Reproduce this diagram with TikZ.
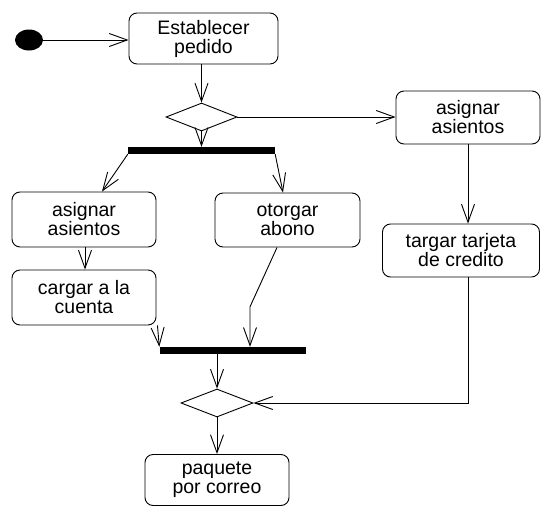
\documentclass[tikz,border=0pt]{standalone}
\usepackage{fontspec}
\setmainfont{Liberation Sans}
\usetikzlibrary{arrows.meta,shapes.geometric,calc}
\begin{document}
\begin{tikzpicture}[x=1pt,y=-1pt,
  every node/.style={inner sep=0pt},
  activity/.style={draw=black, line width=0.9pt, rounded corners=8pt, align=center,
    font=\fontsize{19.5}{19}\selectfont},
  decision/.style={draw=black, line width=0.9pt, diamond},
  syncbar/.style={fill=black, draw=none, rectangle},
  flow/.style={draw=black, line width=0.9pt, -{Straight Barb[length=18pt,width=13pt,line width=0.9pt]}}
]
\useasboundingbox (0,0) rectangle (542,507);

% start state
\node[ellipse, fill=black, minimum width=28pt, minimum height=21pt] (start) at (29,40) {};

% activities
\node[activity, minimum width=149pt, minimum height=51pt] (est) at (203.5,38.5) {Establecer\\pedido};
\node[activity, minimum width=144pt, minimum height=53pt] (asR) at (468,117.5) {asignar\\asientos};
\node[activity, minimum width=144pt, minimum height=55pt] (asL) at (84,219.5) {asignar\\asientos};
\node[activity, minimum width=145pt, minimum height=54pt] (oto) at (287.5,220) {otorgar\\abono};
\node[activity, minimum width=144pt, minimum height=55pt] (car) at (84,297.5) {cargar a la\\cuenta};
\node[activity, minimum width=157pt, minimum height=53pt] (tar) at (461,250.5) {targar tarjeta\\de credito};
\node[activity, minimum width=144pt, minimum height=51pt] (paq) at (217,480) {paquete\\por correo};

% decisions
\node[decision, minimum width=71pt, minimum height=28pt] (d1) at (201.5,117) {};
\node[decision, minimum width=72pt, minimum height=28pt] (d2) at (217,403) {};

% fork / join bars
\node[syncbar, minimum width=147pt, minimum height=7pt] (fork) at (201.5,150.5) {};
\node[syncbar, minimum width=146pt, minimum height=7pt] (join) at (232.5,350.5) {};

% transitions
\draw[flow] (start.east) -- (start.east -| est.west);
\draw[flow] (d1.north |- est.south) -- (d1.north);
\draw[flow] (d1.east) -- (d1.east -| asR.west);
\draw[flow] (d1.south) -- (d1.south |- fork.north);
\draw[flow] (fork.south west) -- ($(asL.north)+(18,0)$);
\draw[flow] (fork.south east) -- ($(oto.north)+(-4.5,0)$);
\draw[flow] ($(asL.south)+(1,0)$) -- ($(car.north)+(1,0)$);
\draw[flow] ($(car.south east)+(1,0)$) -- (join.north west);
\draw[flow] ($(oto.south)+(-10.5,0)$) -- ($(join.north)+(17.5,-40)$) -- ($(join.north)+(17.5,0)$);
\draw[flow] (asR.south) -- (asR.south |- tar.north);
\draw[flow] (asR.south |- tar.south) |- (d2.east);
\draw[flow] (d2.north |- join.south) -- (d2.north);
\draw[flow] (d2.south) -- (d2.south |- paq.north);
\end{tikzpicture}
\end{document}
